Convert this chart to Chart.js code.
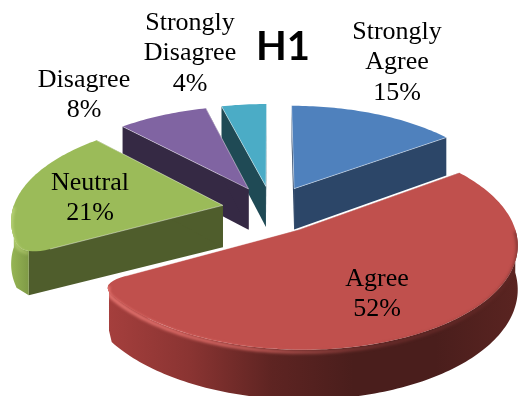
<!DOCTYPE html>
<html>
<head>
<meta charset="utf-8">
<title>H1</title>
<script src="https://cdn.jsdelivr.net/npm/chart.js@4/dist/chart.umd.min.js"></script>
<style>
    html, body { margin: 0; padding: 0; background: #fff; }
    canvas { display: block; }
</style>
</head>
<body>
<canvas id="myChart" width="518" height="396"></canvas>
<script>
const chartTitle = 'H1';
const categories = ['Strongly Agree', 'Agree', 'Neutral', 'Disagree', 'Strongly Disagree'];
const percentages = [15, 52, 21, 8, 4];
const labelLines = [['Strongly', 'Agree'], ['Agree'], ['Neutral'], ['Disagree'], ['Strongly', 'Disagree']];

const sliceColours = ['#4f81bd', '#c0504d', '#9bbb59', '#8064a2', '#4bacc6'];
const cutFaceColours = ['#2c4668', '#6b2b2a', '#4f5d2c', '#352944', '#1f4a55'];
// rim shading runs left to right across each slice
const rimColours = [
    ['#2c4668', '#2c4668'],
    ['#a53f3d', '#8a3432', '#5e2422', '#4a1e1c', '#4a1e1c', '#5a2421'],
    ['#96b554', '#7f9a46'],
    ['#352944', '#352944'],
    ['#1f4a55', '#1f4a55']
];
const rimEdgeColours = [
    null,
    ['rgba(238,125,120,0.95)', 'rgba(232,112,108,0.8)', 'rgba(140,60,58,0.5)', 'rgba(95,38,36,0.6)'],
    ['rgba(190,215,125,0.9)', 'rgba(170,195,105,0.6)'],
    null,
    null
];
const labelCentres = [[397, 32], [377, 279], [90, 183], [84, 80], [190, 23]];

const tilt = 0.47;
const viewDistance = 1600;
const thickness = 42;
const cornerAngle = 0.12;
const cornerInset = 26;

// flat pie coordinates (right, towards viewer) to canvas pixels, drop = distance below the top face
function project(arc, right, near, drop) {
    const f = 1 / (1 - near / viewDistance);
    return [arc.x + right * f, arc.y + (tilt * near + drop) * f];
}

function polar(arc, a, r, drop) {
    return project(arc, arc.shiftX + Math.cos(a) * r, arc.shiftY + Math.sin(a) * r, drop);
}

function rimPoints(arc, from, to, drop) {
    const pts = [];
    const steps = Math.max(2, Math.ceil((to - from) / 0.02));
    for (let i = 0; i <= steps; i++) {
        pts.push(polar(arc, from + (to - from) * i / steps, arc.outerRadius, drop));
    }
    return pts;
}

// curve from the cut edge round to the rim, used on corners that face the viewer
function cornerCurve(arc, a, dir, drop, tFrom) {
    const R = arc.outerRadius;
    const p0 = [Math.cos(a) * (R - cornerInset), Math.sin(a) * (R - cornerInset)];
    const p1 = [Math.cos(a) * R, Math.sin(a) * R];
    const p2 = [Math.cos(a + dir * cornerAngle) * R, Math.sin(a + dir * cornerAngle) * R];
    const pts = [];
    for (let t = tFrom; t <= 1.001; t += 0.1) {
        const s = 1 - t;
        const u = s * s * p0[0] + 2 * s * t * p1[0] + t * t * p2[0];
        const v = s * s * p0[1] + 2 * s * t * p1[1] + t * t * p2[1];
        pts.push(project(arc, arc.shiftX + u, arc.shiftY + v, drop));
    }
    return pts;
}

const isRounded = a => Math.sin(a) > 0.05;

// rim between two angles; tFrom says how much of the corner curve to keep,
// sharp replaces what is left of the curve by its first point (bottom edge of the wall)
function roundedRim(arc, from, to, drop, tFrom, sharp) {
    const startRound = from === arc.startAngle && isRounded(from);
    const endRound = to === arc.endAngle && isRounded(to);
    const lo = startRound ? from + cornerAngle : from;
    const hi = endRound ? to - cornerAngle : to;
    let pts = rimPoints(arc, lo, hi, drop);
    const curve = (a, dir) => {
        const c = cornerCurve(arc, a, dir, drop, tFrom);
        return sharp ? [c[0]] : c;
    };
    if (startRound) pts = curve(from, 1).concat(pts);
    if (endRound) pts = pts.concat(curve(to, -1).reverse());
    return pts;
}

function tracePolygon(ctx, pts) {
    ctx.beginPath();
    pts.forEach((p, i) => i ? ctx.lineTo(p[0], p[1]) : ctx.moveTo(p[0], p[1]));
    ctx.closePath();
}

function sideGradient(ctx, pts, colours) {
    const xs = pts.map(p => p[0]);
    const g = ctx.createLinearGradient(Math.min(...xs), 0, Math.max(...xs), 0);
    colours.forEach((c, i) => g.addColorStop(i / (colours.length - 1), c));
    return g;
}

function drawSlice(ctx, arc, i) {
    const apexTop = project(arc, arc.shiftX, arc.shiftY, 0);
    const apexLow = project(arc, arc.shiftX, arc.shiftY, thickness);
    const topRim = roundedRim(arc, arc.startAngle, arc.endAngle, 0, 0, false);
    const wallTop = roundedRim(arc, arc.startAngle, arc.endAngle, 0, 0.5, false);
    const wallLow = roundedRim(arc, arc.startAngle, arc.endAngle, thickness, 0.5, true);
    const first = topRim[0], last = topRim[topRim.length - 1];

    // flat faces along both cuts
    ctx.fillStyle = cutFaceColours[i];
    tracePolygon(ctx, [apexTop, wallTop[0], wallLow[0], apexLow]);
    ctx.fill();
    tracePolygon(ctx, [apexTop, wallTop[wallTop.length - 1], wallLow[wallLow.length - 1], apexLow]);
    ctx.fill();

    // only the part of the rim turned towards the viewer
    const ranges = [];
    for (let k = -1; k <= 1; k++) {
        const lo = Math.max(arc.startAngle, 2 * Math.PI * k);
        const hi = Math.min(arc.endAngle, 2 * Math.PI * k + Math.PI);
        if (hi > lo) ranges.push([lo, hi]);
    }
    ranges.forEach(r => {
        const upper = roundedRim(arc, r[0], r[1], 0, 0.5, false);
        const lower = roundedRim(arc, r[0], r[1], thickness, 0.5, true);
        const outline = upper.concat(lower.slice().reverse());
        tracePolygon(ctx, outline);
        ctx.fillStyle = sideGradient(ctx, outline, rimColours[i]);
        ctx.fill();
    });

    tracePolygon(ctx, [apexTop].concat(topRim));
    ctx.fillStyle = sliceColours[i];
    ctx.fill();

    // soft bevel where the top face meets the rim, kept inside the slice
    if (rimEdgeColours[i]) {
        ranges.forEach(r => {
            const edge = roundedRim(arc, r[0], r[1], 2, 0.5, false);
            const lower = roundedRim(arc, r[0], r[1], thickness, 0.5, true);
            ctx.save();
            ctx.beginPath();
            [apexTop].concat(topRim).forEach((p, k) => k ? ctx.lineTo(p[0], p[1]) : ctx.moveTo(p[0], p[1]));
            ctx.closePath();
            roundedRim(arc, r[0], r[1], 0, 0.5, false).concat(lower.slice().reverse())
                .forEach((p, k) => k ? ctx.lineTo(p[0], p[1]) : ctx.moveTo(p[0], p[1]));
            ctx.closePath();
            ctx.clip('nonzero');
            ctx.filter = 'blur(1.5px)';
            ctx.beginPath();
            edge.forEach((p, k) => k ? ctx.lineTo(p[0], p[1]) : ctx.moveTo(p[0], p[1]));
            ctx.lineWidth = 3.5;
            ctx.strokeStyle = sideGradient(ctx, edge, rimEdgeColours[i]);
            ctx.stroke();
            ctx.restore();
        });
    }

    // thin pale line on the cut edges of the top face
    ctx.beginPath();
    ctx.moveTo(first[0], first[1]);
    ctx.lineTo(apexTop[0], apexTop[1]);
    ctx.lineTo(last[0], last[1]);
    ctx.lineWidth = 0.8;
    ctx.strokeStyle = 'rgba(255,255,255,0.55)';
    ctx.stroke();
}

const tiltedPie = {
    id: 'tiltedPie',
    beforeDatasetsDraw(chart) {
        const ctx = chart.ctx;
        const arcs = chart.getDatasetMeta(0).data.map((el, i) => {
            const arc = el.getProps(['x', 'y', 'startAngle', 'endAngle', 'outerRadius']);
            const mid = (arc.startAngle + arc.endAngle) / 2;
            arc.shiftX = Math.cos(mid) * el.options.offset;
            arc.shiftY = Math.sin(mid) * el.options.offset;
            arc.index = i;
            arc.depth = Math.sin(mid);
            return arc;
        });
        // far slices first so the near ones cover them
        arcs.slice().sort((a, b) => a.depth - b.depth).forEach(arc => drawSlice(ctx, arc, arc.index));
        return false;
    },
    afterDraw(chart) {
        const ctx = chart.ctx;
        ctx.save();
        ctx.textAlign = 'center';
        ctx.textBaseline = 'middle';
        ctx.fillStyle = '#000';
        ctx.font = '26px "Liberation Serif"';
        percentages.forEach((p, i) => {
            const lines = labelLines[i].concat(p + '%');
            lines.forEach((line, k) => {
                ctx.fillText(line, labelCentres[i][0], labelCentres[i][1] + k * 30.5);
            });
        });
        ctx.font = 'bold 40px Lato';
        ctx.fillText(chartTitle, 283, 47);
        ctx.restore();
    }
};

new Chart(document.getElementById('myChart').getContext('2d'), {
    type: 'pie',
    data: {
        labels: categories,
        datasets: [{
            data: percentages,
            backgroundColor: sliceColours,
            borderWidth: 0,
            offset: 50
        }]
    },
    options: {
        responsive: false,
        animation: false,
        radius: 210,
        layout: { padding: { left: 26, top: 22 } },
        plugins: {
            legend: { display: false },
            tooltip: { enabled: false }
        }
    },
    plugins: [tiltedPie]
});
</script>
</body>
</html>
